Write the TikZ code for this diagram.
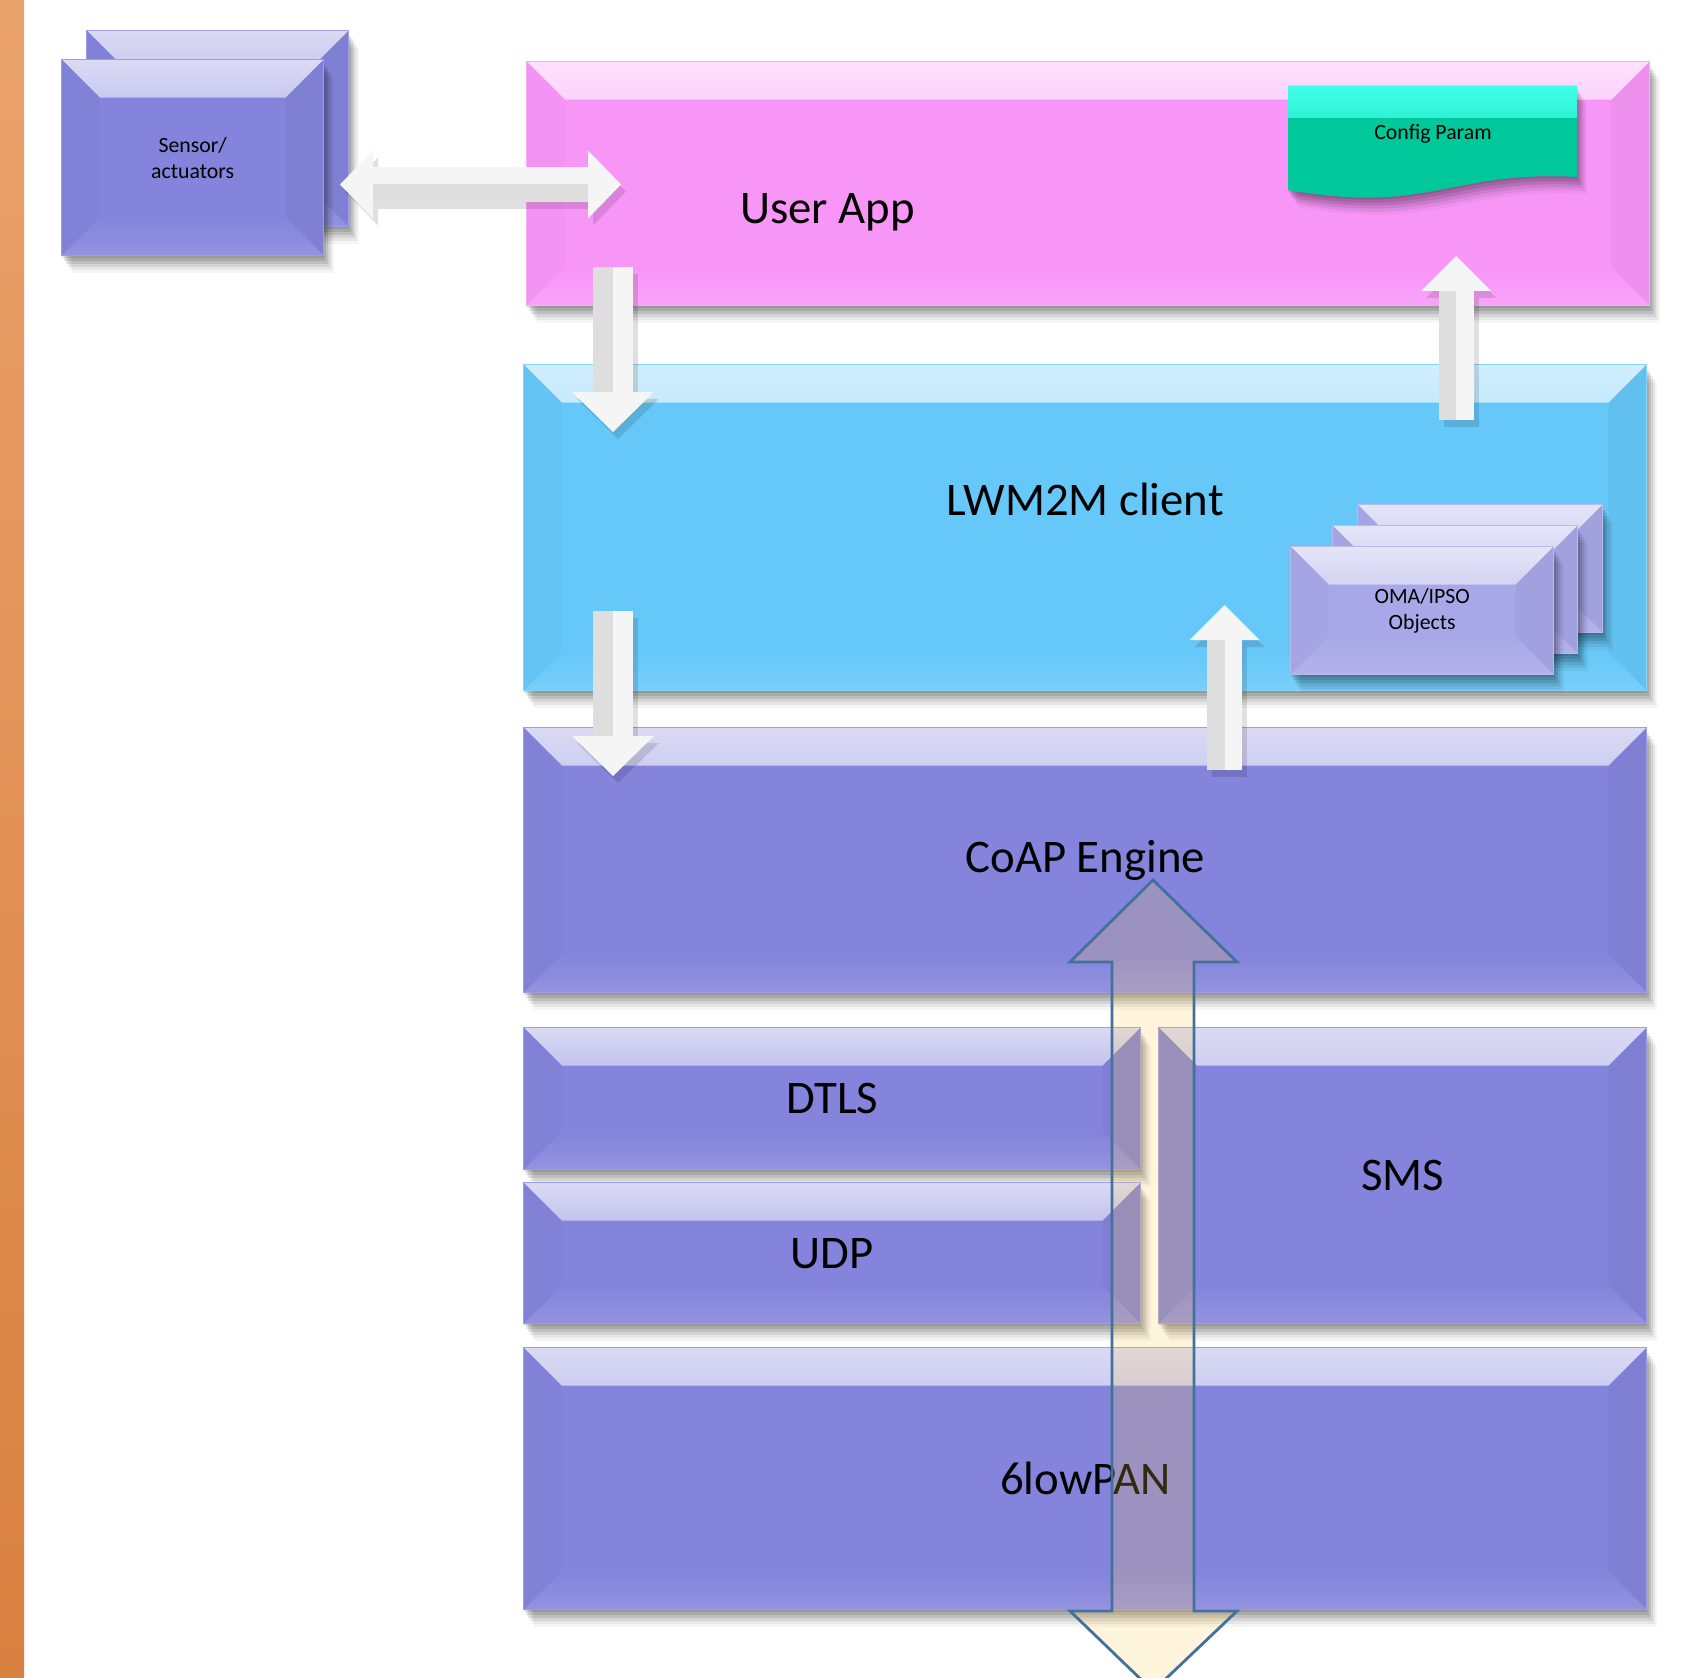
\documentclass[tikz,border=0pt]{standalone}
\usepackage{fontspec}
\setmainfont{Carlito}
\usetikzlibrary{positioning}
\usetikzlibrary{arrows.meta}
\usetikzlibrary{shadows}
\def\bev{0.38cm}
\definecolor{appcol}{RGB}{248,150,248}
\definecolor{lwmcol}{RGB}{102,200,248}
\definecolor{stackcol}{RGB}{132,132,220}
\definecolor{objcol}{RGB}{168,168,232}
\definecolor{cfgcol}{RGB}{0,200,155}
\definecolor{cfgtop}{RGB}{64,255,232}
\definecolor{bartop}{RGB}{234,162,108}
\definecolor{barbot}{RGB}{216,128,64}
\definecolor{flowcol}{RGB}{255,205,80}
\definecolor{flowedge}{RGB}{65,113,156}

\begin{document}
\begin{tikzpicture}[x=1cm, y=1cm,
	bevel/.style={path picture={
		% top face
		\shade[top color=#1!30!white, middle color=#1!97!white, bottom color=#1]
		(path picture bounding box.north west) -- (path picture bounding box.north east)
		-- ([shift={(-\bev,-\bev)}]path picture bounding box.north east)
		-- ([shift={(\bev,-\bev)}]path picture bounding box.north west) -- cycle;
		% left face
		\fill[#1!98!black]
		(path picture bounding box.north west) -- ([shift={(\bev,-\bev)}]path picture bounding box.north west)
		-- ([shift={(\bev,\bev)}]path picture bounding box.south west) -- (path picture bounding box.south west) -- cycle;
		% right face
		\fill[#1!96!black]
		(path picture bounding box.north east) -- ([shift={(-\bev,-\bev)}]path picture bounding box.north east)
		-- ([shift={(-\bev,\bev)}]path picture bounding box.south east) -- (path picture bounding box.south east) -- cycle;
		% bottom face
		\shade[top color=#1, middle color=#1, bottom color=#1!88!white]
		(path picture bounding box.south west) -- (path picture bounding box.south east)
		-- ([shift={(-\bev,\bev)}]path picture bounding box.south east)
		-- ([shift={(\bev,\bev)}]path picture bounding box.south west) -- cycle;
	}},
	soft shadow/.style={
		general shadow={shadow xshift=0.00cm, shadow yshift=-0.02cm, fill=black, opacity=0.10},
		general shadow={shadow xshift=0.02cm, shadow yshift=-0.05cm, fill=black, opacity=0.10},
		general shadow={shadow xshift=0.04cm, shadow yshift=-0.08cm, fill=black, opacity=0.10},
		general shadow={shadow xshift=0.06cm, shadow yshift=-0.11cm, fill=black, opacity=0.08},
		general shadow={shadow xshift=0.08cm, shadow yshift=-0.14cm, fill=black, opacity=0.06},
		general shadow={shadow xshift=0.10cm, shadow yshift=-0.17cm, fill=black, opacity=0.04}},
	layer/.style={rectangle, anchor=north west, inner sep=0pt, fill=#1, draw=#1!80!white, line width=0.4pt,
		soft shadow, bevel=#1},
	arrow down/.style={draw=white!96!black, line width=0.40cm,
		-{Triangle[length=0.40cm 0 0, width=0.82cm 0 0, line width=0pt]}},
	arrow up/.style={draw=white!96!black, line width=0.35cm,
		-{Triangle[length=0.35cm 0 0, width=0.70cm 0 0, line width=0pt]}},
	arrow both/.style={draw=white!96!black, line width=0.35cm,
		{Triangle[length=0.33cm 0 0, width=0.68cm 0 0, line width=0pt]}-{Triangle[length=0.33cm 0 0, width=0.68cm 0 0, line width=0pt]}},
	arrow shadow/.style={draw=black, opacity=#1, transform canvas={shift={(0.05cm,-0.07cm)}}},
	arrow facet/.style={draw=white!87!black, line width=#1, arrows=-},
	flow/.style={fill=flowcol, fill opacity=0.2, draw=flowedge, line width=0.8pt, line join=miter}]
	\tikzstyle{big label}=[font=\fontsize{13.3}{16}\selectfont]
	\tikzstyle{small label}=[font=\fontsize{6.2}{7.4}\selectfont, align=center]

	\useasboundingbox[fill=white] (0,0) rectangle (16.89,-16.78);

	% Left page border
	\shade[top color=bartop, bottom color=barbot] (0,0) rectangle (0.24,-16.78);

	% Draw the sensor boxes
	\node[layer=stackcol, minimum width=2.62cm, minimum height=1.96cm] (sens-back) at (0.86,-0.30) {};
	\node[layer=stackcol, minimum width=2.62cm, minimum height=1.96cm, small label] (sens) at (0.61,-0.59) {Sensor/\\actuators};

	% Draw the stack layers
	\node[layer=appcol, minimum width=11.23cm, minimum height=2.44cm] (app) at (5.26,-0.61) {};
	\node[layer=lwmcol, minimum width=11.23cm, minimum height=3.26cm] (lwm) at (5.23,-3.64) {};
	\node[layer=stackcol, minimum width=11.23cm, minimum height=2.65cm, big label] (coap) at (5.23,-7.27) {CoAP Engine};
	\node[layer=stackcol, minimum width=6.17cm, minimum height=1.42cm, big label] (dtls) at (5.23,-10.27) {DTLS};
	\node[layer=stackcol, minimum width=6.17cm, minimum height=1.41cm, big label] (udp) at (5.23,-11.82) {UDP};
	\node[layer=stackcol, minimum width=4.88cm, minimum height=2.96cm, big label] (sms) at (11.58,-10.27) {SMS};
	\node[layer=stackcol, minimum width=11.23cm, minimum height=2.62cm, big label] (six) at (5.23,-13.47) {6lowPAN};

	% Annotate the upper layers
	\node[big label, xshift=-2.605cm, yshift=-0.29cm] (app-txt) at (app.center) {User App};
	\node[big label, yshift=0.28cm] (lwm-txt) at (lwm.center) {LWM2M client};

	% Draw the config parameter sheet
	\path[fill=cfgcol, soft shadow,
		path picture={\shade[top color=cfgtop, middle color=cfgcol!60!cfgtop, bottom color=cfgcol] (path picture bounding box.north west)
		rectangle ([yshift=-0.32cm]path picture bounding box.north east);}]
	(12.88,-0.86) -- (15.77,-0.86) -- (15.77,-1.77) .. controls (14.50,-1.70) and (14.30,-2.15) .. (12.88,-1.90) -- cycle;
	\node[small label] (cfg) at (14.33,-1.34) {Config Param};

	% Draw the object stack
	\foreach \name/\x/\y in {3/13.57/-5.04, 2/13.32/-5.25}
	\node[layer=objcol, minimum width=2.45cm, minimum height=1.28cm] (oma-\name) at (\x,\y) {};
	\node[layer=objcol, minimum width=2.63cm, minimum height=1.28cm, small label] (oma-1) at (12.90,-5.46) {OMA/IPSO\\Objects};

	% Arrow ends
	\coordinate (hz-l) at (3.40,-1.845);
	\coordinate (hz-r) at (6.21,-1.845);
	\coordinate (d1-s) at (6.13,-2.67);
	\coordinate (d1-e) at (6.13,-4.32);
	\coordinate (d2-s) at (6.13,-6.11);
	\coordinate (d2-e) at (6.13,-7.76);
	\coordinate (u1-s) at (14.56,-4.20);
	\coordinate (u1-e) at (14.56,-2.56);
	\coordinate (u2-s) at (12.245,-7.70);
	\coordinate (u2-e) at (12.245,-6.05);

	% Connect sensors and app
	\draw[arrow both, arrow shadow=0.12] (hz-l) -- (hz-r);
	\draw[arrow both] (hz-l) -- (hz-r);
	\draw[arrow facet=0.175cm, transform canvas={yshift=-0.0875cm}, shorten <=0.33cm, shorten >=0.33cm] (hz-l) -- (hz-r);

	% Connect layers downwards
	\foreach \s/\e in {d1-s/d1-e, d2-s/d2-e} {
		\draw[arrow down, arrow shadow=0.12] (\s) -- (\e);
		\draw[arrow down] (\s) -- (\e);
		\draw[arrow facet=0.20cm, transform canvas={xshift=-0.10cm}, shorten >=0.40cm] (\s) -- (\e);
	}

	% Connect layers upwards
	\foreach \s/\e in {u1-s/u1-e, u2-s/u2-e} {
		\draw[arrow up, arrow shadow=0.12] (\s) -- (\e);
		\draw[arrow up] (\s) -- (\e);
		\draw[arrow facet=0.175cm, transform canvas={xshift=-0.0875cm}, shorten >=0.35cm] (\s) -- (\e);
	}

	% Draw the data flow arrow through the stack
	\coordinate (flow-top) at (11.53,-8.80);
	\coordinate (flow-bot) at (11.53,-16.91);
	\draw[flow] (flow-top) -- ++(0.84,-0.82) -- ++(-0.43,0) -- ++(0,-6.49) -- ++(0.43,0) -- (flow-bot)
	-- ++(-0.83,0.80) -- ++(0.42,0) -- ++(0,6.49) -- ++(-0.42,0) -- cycle;
\end{tikzpicture}
\end{document}
